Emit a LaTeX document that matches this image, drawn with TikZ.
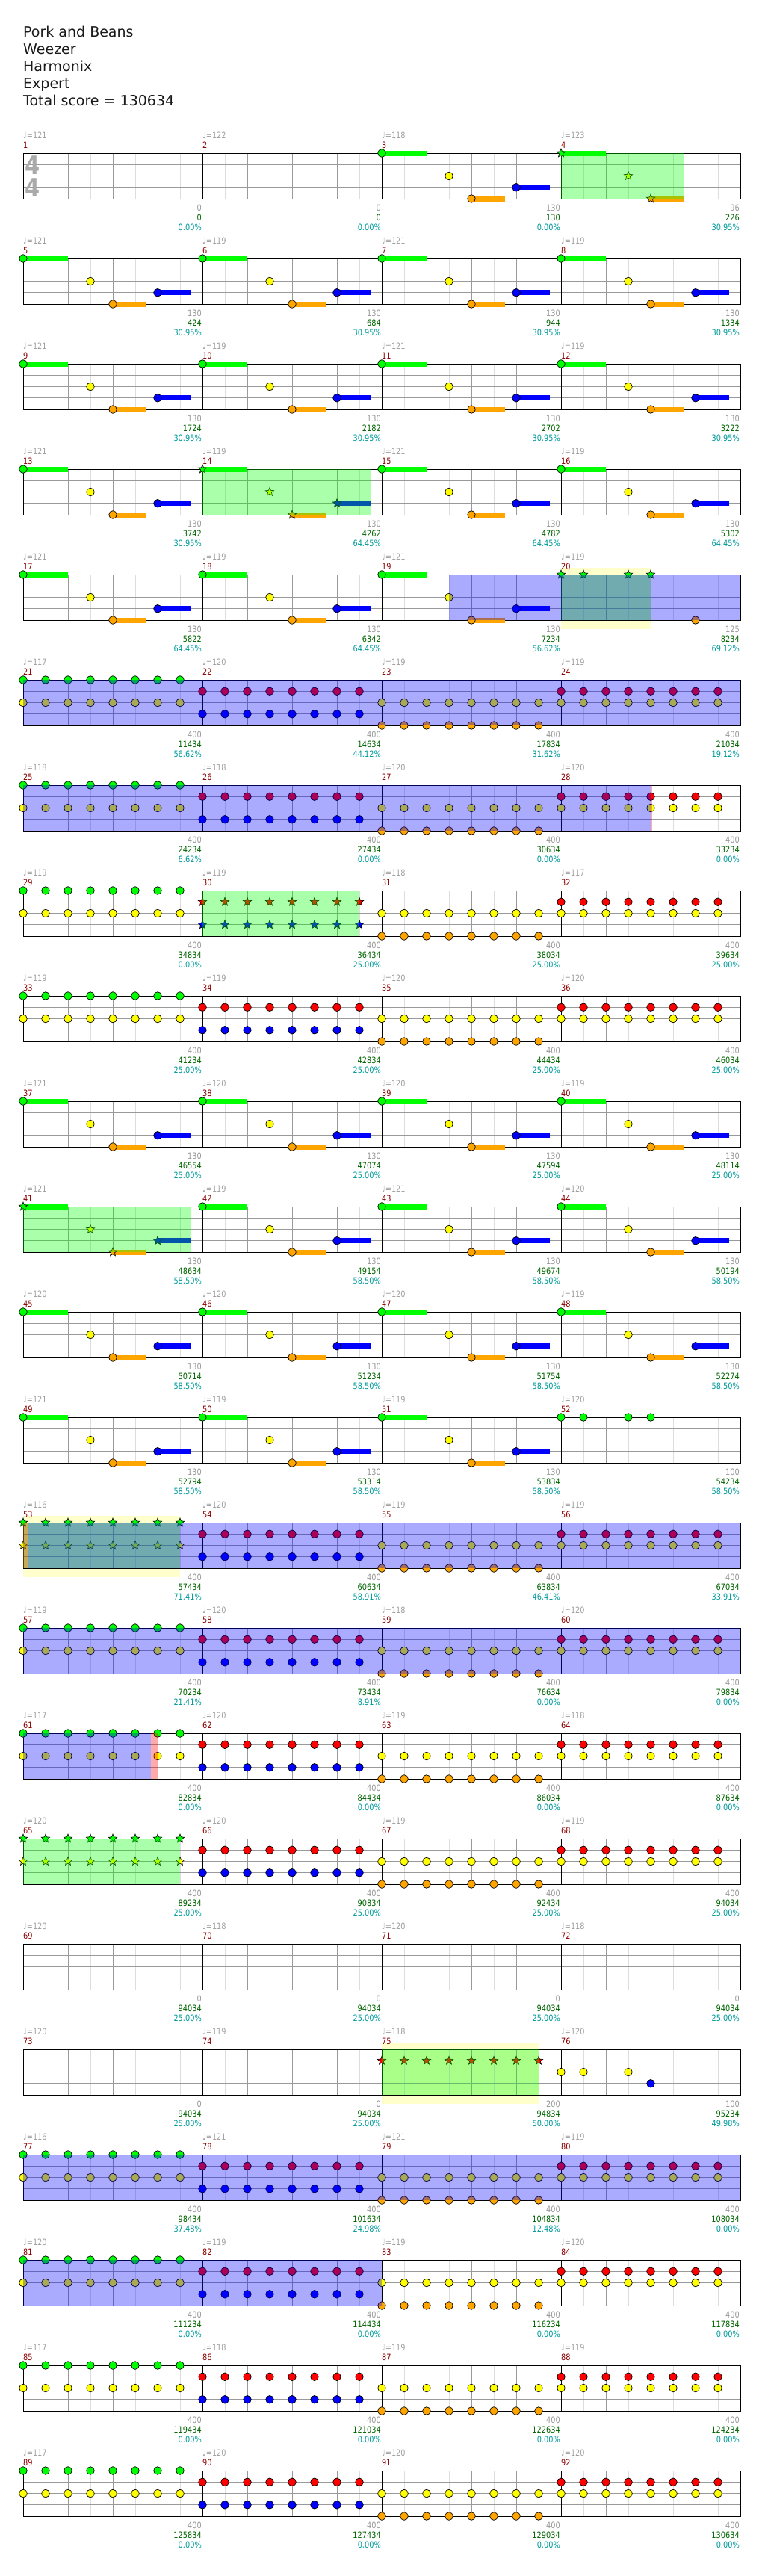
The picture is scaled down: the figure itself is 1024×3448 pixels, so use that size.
\documentclass[tikz,border=0pt]{standalone}
\usepackage{fontspec}
\setmainfont{DejaVu Sans}
\newfontfamily\chartfam{DejaVu Sans}[FakeStretch=0.85]
\usetikzlibrary{shapes.geometric}

\definecolor{gemgreen}{HTML}{00FF00}
\definecolor{gemred}{HTML}{FF0000}
\definecolor{gemyellow}{HTML}{FFFF00}
\definecolor{gemblue}{HTML}{0000FF}
\definecolor{gemorange}{HTML}{FFA500}
\definecolor{halfgrey}{HTML}{DDDDDD}
\definecolor{beatgrey}{HTML}{999999}
\definecolor{siggrey}{HTML}{AAAAAA}
\definecolor{tempogrey}{HTML}{A0A0A0}
\definecolor{numred}{HTML}{8B0000}
\definecolor{totgreen}{HTML}{006400}
\definecolor{pctcyan}{HTML}{009A9A}
\definecolor{hiyellow}{HTML}{FFFFCC}

\newcommand{\chartfont}{\chartfam\fontsize{11.5}{12}\selectfont}

\tikzset{
  headline/.style={anchor=base west, inner sep=0pt, text=black!90, font=\fontsize{19}{23}\selectfont},
  timesig/.style={anchor=base, inner sep=0pt, text=siggrey, font=\chartfam\bfseries\fontsize{34}{34}\selectfont},
  bpmlbl/.style={anchor=base west, inner sep=0pt, text=tempogrey, font=\chartfont},
  numlbl/.style={anchor=base west, inner sep=0pt, text=numred, font=\chartfont},
  ptslbl/.style={anchor=base east, inner sep=0pt, text=beatgrey, font=\chartfont},
  totlbl/.style={anchor=base east, inner sep=0pt, text=totgreen, font=\chartfont},
  pctlbl/.style={anchor=base east, inner sep=0pt, text=pctcyan, font=\chartfont},
  halfbeat/.style={draw=halfgrey, line width=1pt},
  beatline/.style={draw=beatgrey, line width=1pt},
  barline/.style={draw=black, line width=0.9pt},
  gem/.style={draw=black, line width=0.7pt},
  stargem/.style={star, star points=5, star point ratio=2.3, draw=black, line width=0.6pt, inner sep=0pt, minimum size=12pt},
  squeeze/.style={fill=hiyellow},
  odzone/.style={fill=gemgreen, opacity=0.333},
  actzone/.style={fill=gemblue, opacity=0.333},
  latezone/.style={fill=gemred, opacity=0.333}
}

% measure origin: \mx = left edge, \my = top staff line
\newcommand{\measurepos}[1]{%
  \pgfmathtruncatemacro\mcol{mod(#1-1,4)}%
  \pgfmathtruncatemacro\mrow{(#1-1)/4}%
  \pgfmathsetmacro\mx{31+240*\mcol}%
  \pgfmathsetmacro\my{205+141*\mrow}}
% #1 colour, #2 eighth, #3 lane
\newcommand{\gem}[3]{\filldraw[gem, fill=#1] ({\mx+30*#2},{\my+15.25*#3}) circle[radius=5.3];}
\newcommand{\stargem}[3]{\node[stargem, fill=#1] at ({\mx+30*#2},{\my+15.25*#3}) {};}
% #4 length in eighths
\newcommand{\tail}[4]{\fill[#1] ({\mx+30*#2},{\my+15.25*#3-3.5}) rectangle ({\mx+30*#2+30*#4},{\my+15.25*#3+3.5});}
\newcommand{\riff}{%
  \tail{gemgreen}{0}{0}{2}\gem{gemgreen}{0}{0}%
  \gem{gemyellow}{3}{2}%
  \tail{gemorange}{4}{4}{1.5}\gem{gemorange}{4}{4}%
  \tail{gemblue}{6}{3}{1.5}\gem{gemblue}{6}{3}}
\newcommand{\starriff}{%
  \tail{gemgreen}{0}{0}{2}\stargem{gemgreen}{0}{0}%
  \stargem{gemyellow}{3}{2}%
  \tail{gemorange}{4}{4}{1.5}\stargem{gemorange}{4}{4}}
\newcommand{\chug}[4]{\foreach \e in {0,...,7} {\gem{#1}{\e}{#2}\gem{#3}{\e}{#4}}}
\newcommand{\starchug}[4]{\foreach \e in {0,...,7} {\stargem{#1}{\e}{#2}\stargem{#3}{\e}{#4}}}

\begin{document}
\begin{tikzpicture}[x=1pt, y=-1pt]
  \useasboundingbox (0,0) rectangle (1024,3448);

  % header
  \node[headline] (song) at (31,49) {Pork and Beans};
  \node[headline] (band) at (31,72) {Weezer};
  \node[headline] (charter) at (31,95) {Harmonix};
  \node[headline] (level) at (31,118) {Expert};
  \node[headline] (grand) at (31,141) {Total score = 130634};

  % squeeze windows, behind the staff
  \fill[squeeze] (751,760) rectangle (871,842);
  \fill[squeeze] (31,2029) rectangle (241,2111);
  \fill[squeeze] (511,2734) rectangle (721,2816);

  % staff, one row of four measures
  \foreach \r in {0,...,22} {
    \pgfmathsetmacro\ty{205+141*\r}
    \foreach \j in {0,...,15} \draw[halfbeat] ({61+60*\j},\ty) -- ++(0,61);
    \foreach \j in {1,...,15} \draw[beatline] ({31+60*\j},\ty) -- ++(0,61);
    \foreach \l in {1,2,3} \draw[beatline] (31,{\ty+15.25*\l}) -- (991,{\ty+15.25*\l});
    \foreach \c in {1,2,3} \draw[barline] ({31+240*\c},\ty) -- ++(0,61);
    \draw[barline] (31,\ty) rectangle (991,{\ty+61});
  }
  \node[timesig] (sigtop) at (44,233) {4};
  \node[timesig] (sigbot) at (44,263) {4};

  % tempo, measure number, points, running total, percentage
  \foreach \m/\bpm/\pts/\tot/\pct in {
      1/121/0/0/0.00, 2/122/0/0/0.00, 3/118/130/130/0.00, 4/123/96/226/30.95,
      5/121/130/424/30.95, 6/119/130/684/30.95, 7/121/130/944/30.95, 8/119/130/1334/30.95,
      9/121/130/1724/30.95, 10/119/130/2182/30.95, 11/121/130/2702/30.95, 12/119/130/3222/30.95,
      13/121/130/3742/30.95, 14/119/130/4262/64.45, 15/121/130/4782/64.45, 16/119/130/5302/64.45,
      17/121/130/5822/64.45, 18/119/130/6342/64.45, 19/121/130/7234/56.62, 20/119/125/8234/69.12,
      21/117/400/11434/56.62, 22/120/400/14634/44.12, 23/119/400/17834/31.62, 24/119/400/21034/19.12,
      25/118/400/24234/6.62, 26/118/400/27434/0.00, 27/120/400/30634/0.00, 28/120/400/33234/0.00,
      29/119/400/34834/0.00, 30/119/400/36434/25.00, 31/118/400/38034/25.00, 32/117/400/39634/25.00,
      33/119/400/41234/25.00, 34/119/400/42834/25.00, 35/120/400/44434/25.00, 36/120/400/46034/25.00,
      37/121/130/46554/25.00, 38/120/130/47074/25.00, 39/120/130/47594/25.00, 40/119/130/48114/25.00,
      41/121/130/48634/58.50, 42/119/130/49154/58.50, 43/121/130/49674/58.50, 44/120/130/50194/58.50,
      45/120/130/50714/58.50, 46/120/130/51234/58.50, 47/120/130/51754/58.50, 48/119/130/52274/58.50,
      49/121/130/52794/58.50, 50/119/130/53314/58.50, 51/119/130/53834/58.50, 52/120/100/54234/58.50,
      53/116/400/57434/71.41, 54/120/400/60634/58.91, 55/119/400/63834/46.41, 56/119/400/67034/33.91,
      57/119/400/70234/21.41, 58/120/400/73434/8.91, 59/118/400/76634/0.00, 60/120/400/79834/0.00,
      61/117/400/82834/0.00, 62/120/400/84434/0.00, 63/119/400/86034/0.00, 64/118/400/87634/0.00,
      65/120/400/89234/25.00, 66/120/400/90834/25.00, 67/119/400/92434/25.00, 68/119/400/94034/25.00,
      69/120/0/94034/25.00, 70/118/0/94034/25.00, 71/120/0/94034/25.00, 72/118/0/94034/25.00,
      73/120/0/94034/25.00, 74/119/0/94034/25.00, 75/118/200/94834/50.00, 76/120/100/95234/49.98,
      77/116/400/98434/37.48, 78/121/400/101634/24.98, 79/121/400/104834/12.48, 80/119/400/108034/0.00,
      81/120/400/111234/0.00, 82/119/400/114434/0.00, 83/119/400/116234/0.00, 84/120/400/117834/0.00,
      85/117/400/119434/0.00, 86/118/400/121034/0.00, 87/119/400/122634/0.00, 88/119/400/124234/0.00,
      89/117/400/125834/0.00, 90/120/400/127434/0.00, 91/120/400/129034/0.00, 92/120/400/130634/0.00} {
    \measurepos{\m}
    \node[bpmlbl] (bpm\m) at (\mx,{\my-20}) {♩=\bpm};
    \node[numlbl] (num\m) at (\mx,{\my-7}) {\m};
    \node[ptslbl] (pts\m) at ({\mx+239},{\my+77}) {\pts};
    \node[totlbl] (tot\m) at ({\mx+239},{\my+90.5}) {\tot};
    \node[pctlbl] (pct\m) at ({\mx+239},{\my+103.5}) {\pct\%};
  }

  % notes
  \foreach \m in {3,5,6,...,13,15,16,...,19,37,38,...,40,42,43,...,51} {\measurepos{\m}\riff}
  \foreach \m in {21,25,29,33,57,61,77,81,85,89} {\measurepos{\m}\chug{gemgreen}{0}{gemyellow}{2}}
  \foreach \m in {22,26,34,54,58,62,66,78,82,86,90} {\measurepos{\m}\chug{gemred}{1}{gemblue}{3}}
  \foreach \m in {23,27,31,35,55,59,63,67,79,83,87,91} {\measurepos{\m}\chug{gemyellow}{2}{gemorange}{4}}
  \foreach \m in {24,28,32,36,56,60,64,68,80,84,88,92} {\measurepos{\m}\chug{gemred}{1}{gemyellow}{2}}
  \measurepos{4}\starriff
  \foreach \m in {14,41} {\measurepos{\m}\starriff\tail{gemblue}{6}{3}{1.5}\stargem{gemblue}{6}{3}}
  \measurepos{20}
  \foreach \e in {0,1,3,4} {\stargem{gemgreen}{\e}{0}}
  \gem{gemorange}{6}{4}
  \measurepos{30}\starchug{gemred}{1}{gemblue}{3}
  \measurepos{52}
  \foreach \e in {0,1,3,4} {\gem{gemgreen}{\e}{0}}
  \foreach \m in {53,65} {\measurepos{\m}\starchug{gemgreen}{0}{gemyellow}{2}}
  \measurepos{75}
  \foreach \e in {0,...,7} {\stargem{gemred}{\e}{1}}
  \measurepos{76}
  \foreach \e in {0,1,3} {\gem{gemyellow}{\e}{2}}
  \gem{gemblue}{4}{3}

  % overdrive phrases
  \fill[odzone] (751,205) rectangle (916,266);
  \fill[odzone] (271,628) rectangle (496,689);
  \fill[odzone] (751,769) rectangle (871,830);
  \fill[odzone] (271,1192) rectangle (481,1253);
  \fill[odzone] (31,1615) rectangle (256,1676);
  \fill[odzone] (31,2038) rectangle (241,2099);
  \fill[odzone] (31,2461) rectangle (241,2522);
  \fill[odzone] (511,2743) rectangle (721,2804);
  % activations
  \fill[actzone] (601,769) rectangle (991,830);
  \fill[actzone] (31,910) rectangle (991,971);
  \fill[actzone] (31,1051) rectangle (871,1112);
  \fill[actzone] (37,2038) rectangle (991,2099);
  \fill[actzone] (31,2179) rectangle (991,2240);
  \fill[actzone] (31,2320) rectangle (202,2381);
  \fill[actzone] (31,2884) rectangle (991,2945);
  \fill[actzone] (31,3025) rectangle (511,3086);
  % red windows
  \fill[latezone] (871,1051) rectangle (873,1112);
  \fill[latezone] (31,2038) rectangle (37,2099);
  \fill[latezone] (202,2320) rectangle (212,2381);
\end{tikzpicture}
\end{document}
